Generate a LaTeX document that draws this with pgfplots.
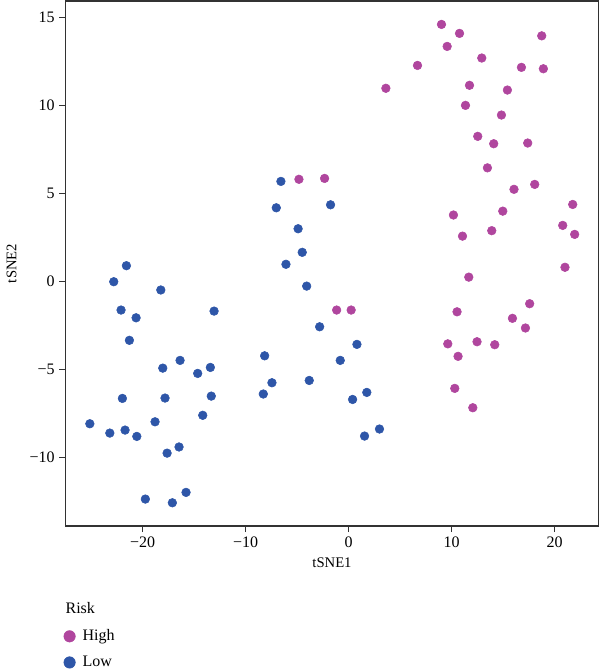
\documentclass[border=0pt]{standalone}
\usepackage{fontspec}
\setmainfont{Liberation Serif}
\usepackage{pgfplots}
\pgfplotsset{compat=1.18}
\definecolor{hcol}{RGB}{176,70,158}
\definecolor{lcol}{RGB}{46,86,168}
\definecolor{axcol}{RGB}{50,50,50}
\begin{document}
\begin{tikzpicture}
\path[use as bounding box] (-49pt,-109.5pt) rectangle (401pt,394.5pt);
\begin{axis}[
  at={(0,0)}, anchor=south west,
  scale only axis, width=400pt, height=393.75pt,
  xmin=-27.5, xmax=24.28, ymin=-13.9, ymax=15.93,
  xtick={-20,-10,0,10,20}, ytick={-10,-5,0,5,10,15},
  xticklabels={−20,−10,0,10,20},
  yticklabels={−10,−5,0,5,10,15},
  tick pos=left, tick align=outside, major tick length=4.5pt,
  axis line style={axcol, line width=0.8pt},
  tick style={axcol, line width=0.7pt},
  ticklabel style={font=\fontsize{12}{14}\selectfont},
  xlabel={tSNE1}, ylabel={tSNE2},
  label style={font=\fontsize{11}{13}\selectfont},
  xlabel style={yshift=-1pt},
  ylabel style={yshift=3pt},
  legend cell align=left,
  legend image code/.code={\path (0pt,0pt) (12pt,0pt); \fill[#1] (4.4pt,0pt) circle (4.3pt);},
  legend style={draw=none, fill=none, at={(rel axis cs:-0.0115,-0.187)}, anchor=north west,
    font=\fontsize{12}{14}\selectfont, row sep=6pt,
    nodes={inner xsep=2pt}},
  clip=false,
]
\addplot[only marks, mark=*, mark size=3.25pt, draw=hcol, fill=hcol, mark options={draw=hcol, fill=hcol}] coordinates {
(9.02,14.6) (10.77,14.09) (18.75,13.95) (9.57,13.35) (12.93,12.69) (6.69,12.27)
(16.78,12.16) (18.91,12.08) (3.62,10.97) (11.74,11.14) (15.42,10.87) (11.35,10.0)
(14.84,9.45) (12.54,8.24) (14.09,7.82) (17.39,7.86) (13.48,6.45) (16.06,5.23)
(18.07,5.51) (21.76,4.37) (14.97,3.99) (10.18,3.77) (20.79,3.18) (21.95,2.67)
(13.9,2.88) (11.06,2.57) (21.01,0.8) (11.67,0.24) (-4.82,5.8) (-2.33,5.85)
(-1.16,-1.63) (0.25,-1.63) (10.53,-1.73) (17.58,-1.27) (15.91,-2.1) (17.17,-2.65)
(9.63,-3.55) (12.47,-3.43) (14.19,-3.6) (10.63,-4.26) (10.31,-6.08) (12.06,-7.18)
};
\addlegendentry{High}
\addplot[only marks, mark=*, mark size=3.25pt, draw=lcol, fill=lcol, mark options={draw=lcol, fill=lcol}] coordinates {
(-6.57,5.68) (-7.02,4.18) (-4.9,2.99) (-4.5,1.65) (-6.08,0.97) (-1.75,4.35)
(-21.57,0.89) (-22.8,-0.02) (-18.23,-0.49) (-22.09,-1.63) (-20.63,-2.07) (-13.06,-1.69)
(-21.28,-3.35) (-16.36,-4.49) (-18.04,-4.93) (-14.65,-5.23) (-13.42,-4.89) (-8.15,-4.23)
(-7.44,-5.76) (-8.28,-6.4) (-21.96,-6.65) (-17.82,-6.63) (-13.33,-6.52) (-14.16,-7.61)
(-25.12,-8.09) (-18.79,-7.98) (-23.18,-8.62) (-21.7,-8.45) (-20.56,-8.81) (-16.46,-9.41)
(-17.62,-9.76) (-19.73,-12.37) (-17.11,-12.58) (-15.78,-11.99) (-4.07,-0.27) (-2.81,-2.58)
(0.81,-3.58) (-0.81,-4.49) (-3.82,-5.63) (0.39,-6.71) (1.77,-6.31) (3.0,-8.39) (1.55,-8.79)
};
\addlegendentry{Low}
\node[anchor=west, font=\fontsize{12}{14}\selectfont, inner xsep=0pt] at (rel axis cs:0,-0.157) {Risk};
\end{axis}
\end{tikzpicture}
\end{document}
